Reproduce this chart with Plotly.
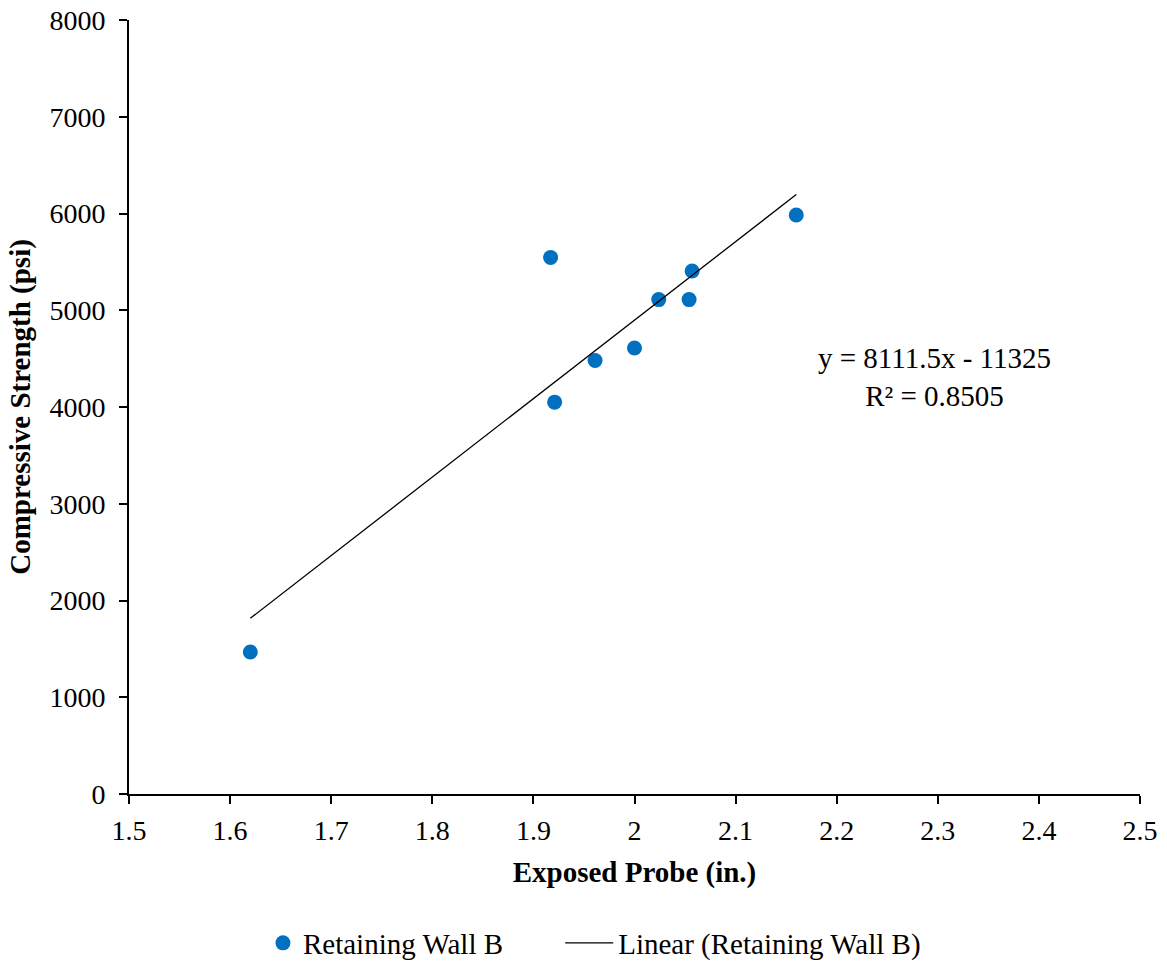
import plotly.graph_objects as go

# Data
exposed_probe = [1.62, 1.917, 1.921, 1.961, 2.000, 2.024, 2.054, 2.057, 2.160]
strength = [1468, 5545, 4050, 4480, 4610, 5110, 5110, 5405, 5985]
slope = 8111.5
intercept = -11325
r2 = 0.8505
x_ticks = [1.5, 1.6, 1.7, 1.8, 1.9, 2.0, 2.1, 2.2, 2.3, 2.4, 2.5]
x_tick_labels = ["1.5", "1.6", "1.7", "1.8", "1.9", "2", "2.1", "2.2", "2.3", "2.4", "2.5"]
y_ticks = [0, 1000, 2000, 3000, 4000, 5000, 6000, 7000, 8000]

font_family = "Liberation Serif, Times New Roman, serif"

x_fit = [min(exposed_probe), max(exposed_probe)]
y_fit = [slope * x + intercept for x in x_fit]

fig = go.Figure()
fig.add_trace(go.Scatter(
    x=exposed_probe, y=strength, mode="markers", name="Retaining Wall B",
    marker=dict(color="#0070C0", size=15, line=dict(width=0)),
    legend="legend",
))
fig.add_trace(go.Scatter(
    x=x_fit, y=y_fit, mode="lines", name="Linear (Retaining Wall B)",
    line=dict(color="black", width=1.3),
    legend="legend2",
))

fig.add_annotation(
    x=2.297, y=4310, xref="x", yref="y",
    text=f"y = {slope}x - {abs(intercept)}<br>R² = {r2}",
    showarrow=False, align="center",
    font=dict(family=font_family, size=29, color="black"),
)

axis_common = dict(
    showgrid=False, zeroline=False, showline=True, linecolor="black", linewidth=2,
    ticks="outside", ticklen=8, tickwidth=2, tickcolor="black",
    tickfont=dict(family=font_family, size=28, color="black"),
    automargin=False,
)

legend_font = dict(family=font_family, size=29, color="black")

fig.update_layout(
    width=1167, height=966,
    paper_bgcolor="white", plot_bgcolor="white",
    margin=dict(l=129, r=27, t=20, b=172, autoexpand=False),
    font=dict(family=font_family, color="black"),
    xaxis=dict(range=[1.5, 2.5], tickvals=x_ticks, ticktext=x_tick_labels, ticklabelstandoff=2,
               title=dict(text="<b>Exposed Probe (in.)</b>", font=dict(family=font_family, size=29), standoff=17),
               **axis_common),
    yaxis=dict(range=[0, 8000], tickvals=y_ticks, ticklabelstandoff=8,
               title=dict(text="<b>Compressive Strength (psi)</b>", font=dict(family=font_family, size=29), standoff=10),
               **axis_common),
    showlegend=True,
    legend=dict(orientation="h", x=0.1325, xanchor="left", y=-0.1925, yanchor="middle",
                font=legend_font, bgcolor="rgba(0,0,0,0)"),
    legend2=dict(orientation="h", x=0.4265, xanchor="left", y=-0.1925, yanchor="middle",
                 font=legend_font, bgcolor="rgba(0,0,0,0)", itemwidth=48),
)

fig.write_html("out.html", config={"displayModeBar": False},
               post_script="document.body.style.margin='0';")
